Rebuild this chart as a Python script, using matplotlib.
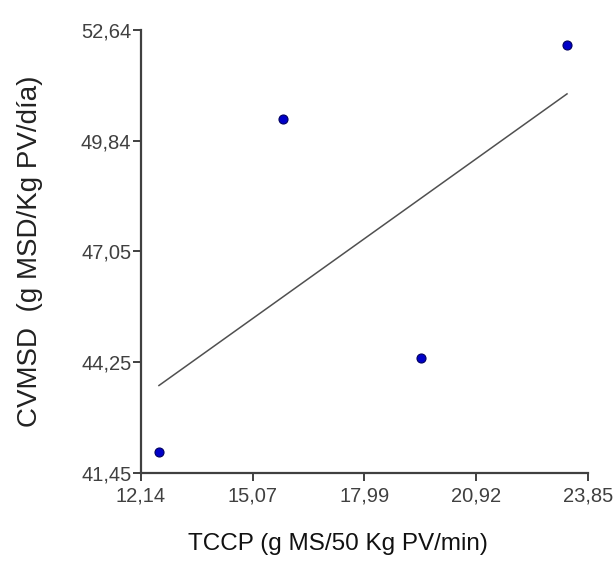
import numpy as np
import matplotlib
matplotlib.use('Agg')
import matplotlib.pyplot as plt

# values
tccp = [12.61, 15.86, 19.48, 23.30]
cvmsd = [41.98, 50.39, 44.35, 52.26]

xticks = [12.14, 15.07, 17.99, 20.92, 23.85]
yticks = [41.45, 44.25, 47.05, 49.84, 52.64]
xticklabels = ['12,14', '15,07', '17,99', '20,92', '23,85']
yticklabels = ['41,45', '44,25', '47,05', '49,84', '52,64']

plt.rcParams['font.family'] = ['Liberation Sans', 'DejaVu Sans']

fig = plt.figure(figsize=(6.16, 5.65), dpi=100)
ax = fig.add_axes([141 / 616, 1 - 473 / 565, 447 / 616, 443 / 565])

# least-squares line over the data range
b, a = np.polyfit(tccp, cvmsd, 1)
xl = np.array([min(tccp), max(tccp)])
ax.plot(xl, a + b * xl, color='#505050', lw=1.1)

ax.plot(tccp, cvmsd, 'o', ms=6.5, mfc='#0000c8', mec='#000060', mew=0.8,
        linestyle='none')

ax.set_xlim(xticks[0], xticks[-1])
ax.set_ylim(yticks[0], yticks[-1])
ax.set_xticks(xticks)
ax.set_xticklabels(xticklabels)
ax.set_yticks(yticks)
ax.set_yticklabels(yticklabels)

for s in ['top', 'right']:
    ax.spines[s].set_visible(False)
for s in ['left', 'bottom']:
    ax.spines[s].set_color('#404040')
    ax.spines[s].set_linewidth(1.6)

ax.tick_params(axis='both', direction='out', length=6, width=1.4,
               color='#404040', labelcolor='#404040', labelsize=14.5)
ax.tick_params(axis='x', pad=4)
ax.tick_params(axis='y', pad=1)

ax.set_xlabel('TCCP (g MS/50 Kg PV/min)', fontsize=17.5, color='#111111')
ax.xaxis.set_label_coords(0.44, -0.16)
ax.set_ylabel('CVMSD  (g MSD/Kg PV/día)', fontsize=20, color='#222222')
ax.yaxis.set_label_coords(-0.248, 0.5)
ax.xaxis.label.set_va('center')
ax.yaxis.label.set_va('center')

fig.savefig('out.png', dpi=100)
